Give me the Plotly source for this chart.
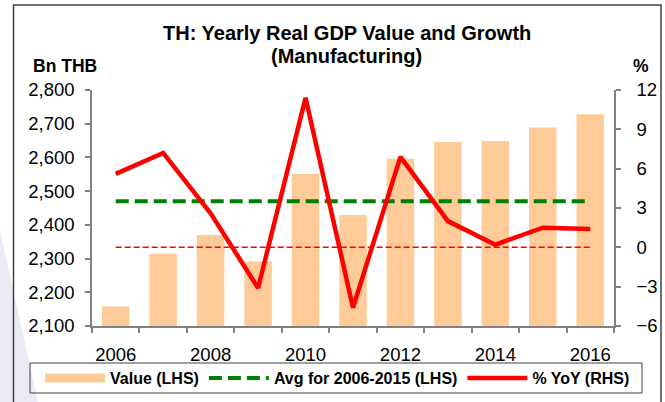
import plotly.graph_objects as go

years = [2006, 2007, 2008, 2009, 2010, 2011, 2012, 2013, 2014, 2015, 2016]
value_bn_thb = [2158, 2314, 2370, 2291, 2551, 2429, 2596, 2646, 2649, 2689, 2728]
yoy_pct = [5.6, 7.2, 2.6, -3.1, 11.4, -4.6, 6.9, 2.0, 0.2, 1.5, 1.4]
avg_2006_2015 = 2470
zero_ref = 0
x_tick_labels = ["2006", "2008", "2010", "2012", "2014", "2016"]
x_tick_vals = [2006, 2008, 2010, 2012, 2014, 2016]

FONT = "Liberation Sans, Arial, sans-serif"
PEACH = "#FFCC99"

W, H = 665, 402
L, R, T, B = 92, 51, 90, 76
pw, ph = W - L - R, H - T - B


def sx(x):  # screen x -> paper
    return (x - L) / pw


def sy(y):  # screen y -> paper
    return (H - B - y) / ph


fig = go.Figure()

fig.add_trace(go.Bar(
    x=years, y=value_bn_thb, marker=dict(color=PEACH, line=dict(width=0)),
    width=0.58, showlegend=False, yaxis="y", name="Value (LHS)"))
fig.add_trace(go.Scatter(
    x=[None], y=[None], mode="lines", line=dict(color=PEACH, width=9),
    name="<b>Value (LHS)</b>", showlegend=True))
fig.add_trace(go.Scatter(
    x=years, y=[avg_2006_2015] * len(years), mode="lines",
    line=dict(color="#008000", width=4, dash="13px,6px"),
    name="<b>Avg for 2006-2015 (LHS)</b>", yaxis="y"))
fig.add_trace(go.Scatter(
    x=years, y=[zero_ref] * len(years), mode="lines",
    line=dict(color="#FF0000", width=1.5, dash="6px,3px"),
    showlegend=False, yaxis="y2"))
fig.add_trace(go.Scatter(
    x=years, y=yoy_pct, mode="lines",
    line=dict(color="#FF0000", width=4.5),
    name="<b>% YoY (RHS)</b>", yaxis="y2"))

AX = "#808080"
fig.update_layout(
    template="none",
    width=W, height=H,
    margin=dict(l=L, r=R, t=T, b=B, pad=0, autoexpand=False),
    paper_bgcolor="white", plot_bgcolor="white",
    font=dict(family=FONT, size=18, color="black"),
    xaxis=dict(
        range=[2005.5, 2016.5], tickvals=x_tick_vals, ticktext=x_tick_labels,
        ticks="", showline=True, linecolor=AX, linewidth=1.5, automargin=False,
        showgrid=False, zeroline=False, ticklabelstandoff=11,
        minor=dict(tick0=2005.5, dtick=1, ticks="outside", ticklen=5,
                   tickcolor=AX, tickwidth=1.5, showgrid=False),
        tickfont=dict(size=18.5)),
    yaxis=dict(
        range=[2100, 2800], dtick=100, tickformat=",", showline=True,
        linecolor=AX, linewidth=1.5, ticks="outside", ticklen=5, automargin=False,
        tickcolor=AX, tickwidth=1.5, showgrid=False, zeroline=False,
        ticklabelstandoff=7, tickfont=dict(size=18.5)),
    yaxis2=dict(
        range=[-6, 12], dtick=3, overlaying="y", side="right", showline=True,
        linecolor=AX, linewidth=1.5, ticks="outside", ticklen=5, automargin=False,
        tickcolor=AX, tickwidth=1.5, showgrid=False, zeroline=False,
        ticklabelstandoff=12, tickfont=dict(size=18.5)),
    legend=dict(
        orientation="h", x=sx(40), xanchor="left", y=sy(378), yanchor="middle",
        font=dict(size=16, family=FONT), bgcolor="rgba(0,0,0,0)",
        borderwidth=0, itemwidth=60, tracegroupgap=0, traceorder="normal"),
    showlegend=True,
)

fig.add_shape(type="path", xref="paper", yref="paper", layer="below",
              path=f"M {sx(0)} {sy(230)} L {sx(38)} {sy(402)} L {sx(0)} {sy(402)} Z",
              fillcolor="#ECEBF4", line=dict(width=0))
fig.add_shape(type="rect", xref="paper", yref="paper",
              x0=sx(13.5), x1=sx(661), y0=sy(410), y1=sy(5),
              line=dict(color="#404040", width=1.5), fillcolor="rgba(0,0,0,0)")
fig.add_shape(type="rect", xref="paper", yref="paper",
              x0=sx(30), x1=sx(642), y0=sy(393), y1=sy(363),
              line=dict(color="#404040", width=1), fillcolor="rgba(0,0,0,0)")

fig.add_annotation(text="<b>TH: Yearly Real GDP Value and Growth</b>",
                   xref="paper", yref="paper", x=sx(346.5), y=sy(33), showarrow=False,
                   xanchor="center", yanchor="middle", font=dict(size=20, family=FONT))
fig.add_annotation(text="<b>(Manufacturing)</b>",
                   xref="paper", yref="paper", x=sx(346.5), y=sy(56), showarrow=False,
                   xanchor="center", yanchor="middle", font=dict(size=20, family=FONT))
fig.add_annotation(text="<b>Bn THB</b>", xref="paper", yref="paper",
                   x=sx(64.5), y=sy(66), showarrow=False, xanchor="center",
                   yanchor="middle", font=dict(size=17.5, family=FONT))
fig.add_annotation(text="<b>%</b>", xref="paper", yref="paper",
                   x=sx(641.5), y=sy(66), showarrow=False, xanchor="center",
                   yanchor="middle", font=dict(size=17.5, family=FONT))

# Remove the default 8px page margin so the figure sits at the window origin.
fig.write_html("out.html", config={"displayModeBar": False},
               post_script="document.body.style.margin='0';")
